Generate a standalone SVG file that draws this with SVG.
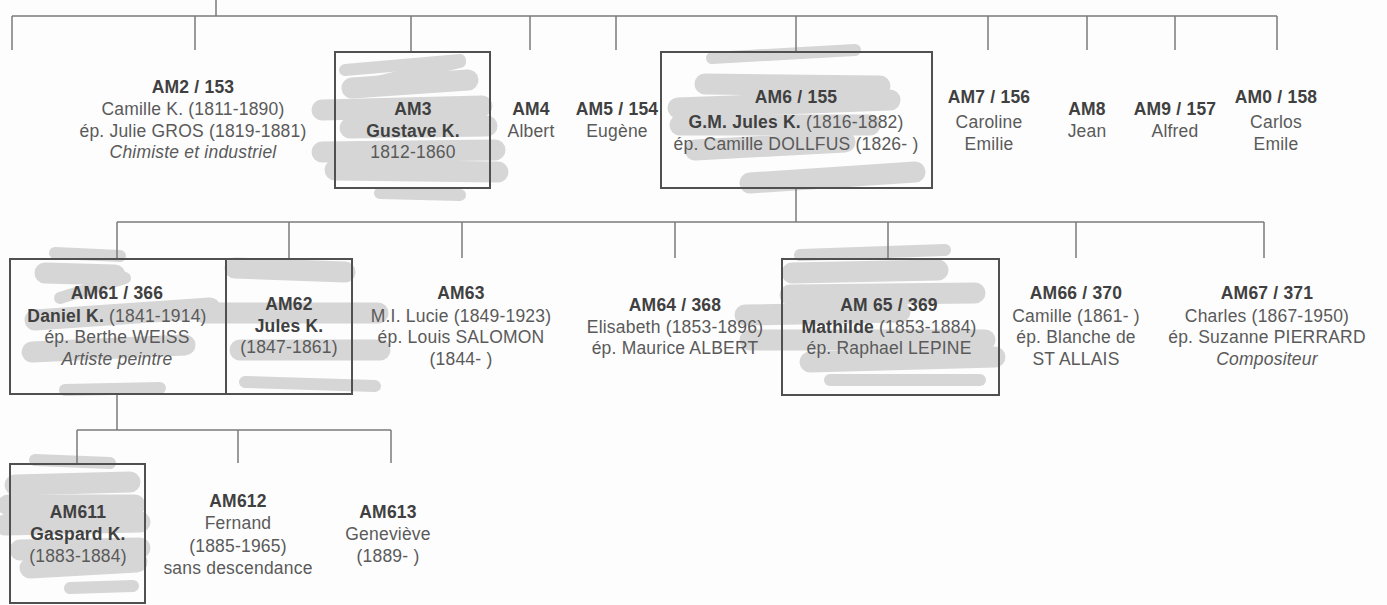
<svg xmlns="http://www.w3.org/2000/svg" width="1387" height="605" viewBox="0 0 1387 605">
<style>
text{font-family:"Liberation Sans",Arial,sans-serif;font-size:17.5px;fill:#5a5a5a;text-anchor:middle;letter-spacing:0.2px}
.b{font-weight:bold;fill:#404040}
.i{font-style:italic}
.c line{stroke:#7a7a7a;stroke-width:1.5}
.box{fill:none;stroke:#505050;stroke-width:2}
.s{fill:none;stroke:#d6d6d6;stroke-width:21;stroke-linecap:round;stroke-linejoin:round}
.t{fill:none;stroke:#d6d6d6;stroke-width:12;stroke-linecap:round}
</style>
<rect width="1387" height="605" fill="#fdfdfd"/>
<g id="scribbles">
<line class="t" x1="345" y1="70" x2="460" y2="60"/>
<line class="t" x1="460" y1="62" x2="352" y2="88"/>
<line class="s" x1="352" y1="88" x2="468" y2="80"/>
<line class="s" x1="322" y1="110" x2="482" y2="106"/>
<line class="s" x1="350" y1="128" x2="487" y2="126"/>
<line class="s" x1="322" y1="152" x2="495" y2="150"/>
<line class="s" x1="335" y1="170" x2="498" y2="172"/>
<line class="t" x1="380" y1="193" x2="460" y2="195"/>

<line class="t" x1="712" y1="58" x2="855" y2="50"/>
<line class="s" x1="705" y1="84" x2="880" y2="86"/>
<line class="s" x1="678" y1="108" x2="890" y2="100"/>
<line class="s" x1="680" y1="125" x2="870" y2="125"/>
<line class="s" x1="695" y1="150" x2="845" y2="142"/>
<line class="s" x1="750" y1="183" x2="915" y2="172"/>

<line class="t" x1="55" y1="253" x2="120" y2="256"/>
<line class="s" x1="45" y1="273" x2="115" y2="275"/>
<line class="t" x1="125" y1="278" x2="60" y2="298"/>
<line class="s" x1="35" y1="320" x2="210" y2="308"/>
<line class="s" x1="32" y1="352" x2="185" y2="345"/>
<line class="t" x1="65" y1="390" x2="160" y2="388"/>
<line class="s" x1="235" y1="268" x2="345" y2="272"/>
<line class="s" x1="205" y1="313" x2="378" y2="313"/>
<line class="s" x1="240" y1="350" x2="380" y2="350"/>
<line class="t" x1="245" y1="382" x2="375" y2="386"/>

<line class="t" x1="800" y1="255" x2="945" y2="250"/>
<line class="s" x1="792" y1="273" x2="938" y2="270"/>
<line class="s" x1="790" y1="295" x2="975" y2="293"/>
<line class="s" x1="745" y1="315" x2="900" y2="312"/>
<line class="s" x1="750" y1="340" x2="985" y2="340"/>
<line class="s" x1="810" y1="362" x2="995" y2="357"/>
<line class="t" x1="830" y1="380" x2="980" y2="380"/>

<line class="t" x1="35" y1="460" x2="110" y2="463"/>
<line class="s" x1="15" y1="485" x2="130" y2="482"/>
<line class="s" x1="8" y1="505" x2="135" y2="505"/>
<line class="s" x1="5" y1="525" x2="140" y2="522"/>
<line class="s" x1="20" y1="550" x2="140" y2="548"/>
<line class="s" x1="30" y1="568" x2="137" y2="562"/>
<line class="t" x1="70" y1="588" x2="133" y2="586"/>
</g>
<g id="connectors" class="c">
<line x1="216" y1="0" x2="216" y2="16"/>
<line x1="12" y1="16" x2="1277" y2="16"/>
<line x1="12" y1="16" x2="12" y2="50"/>
<line x1="195" y1="16" x2="195" y2="50"/>
<line x1="411" y1="16" x2="411" y2="52"/>
<line x1="530" y1="16" x2="530" y2="50"/>
<line x1="616" y1="16" x2="616" y2="50"/>
<line x1="796" y1="16" x2="796" y2="52"/>
<line x1="988" y1="16" x2="988" y2="50"/>
<line x1="1087" y1="16" x2="1087" y2="50"/>
<line x1="1175" y1="16" x2="1175" y2="50"/>
<line x1="1277" y1="16" x2="1277" y2="50"/>
<line x1="796" y1="188" x2="796" y2="222"/>
<line x1="117" y1="222" x2="1264" y2="222"/>
<line x1="117" y1="222" x2="117" y2="259"/>
<line x1="289" y1="222" x2="289" y2="259"/>
<line x1="462" y1="222" x2="462" y2="258"/>
<line x1="675" y1="222" x2="675" y2="258"/>
<line x1="888" y1="222" x2="888" y2="259"/>
<line x1="1076" y1="222" x2="1076" y2="258"/>
<line x1="1264" y1="222" x2="1264" y2="258"/>
<line x1="117" y1="394" x2="117" y2="430"/>
<line x1="77" y1="430" x2="391" y2="430"/>
<line x1="77" y1="430" x2="77" y2="464"/>
<line x1="238" y1="430" x2="238" y2="463"/>
<line x1="391" y1="430" x2="391" y2="463"/>
</g>
<g id="AM2">
<text class="b" x="193" y="93">AM2 / 153</text>
<text x="193" y="115">Camille K. (1811-1890)</text>
<text x="193" y="137">ép. Julie GROS (1819-1881)</text>
<text class="i" x="193" y="158">Chimiste et industriel</text>
</g>
<g id="AM3">
<rect class="box" x="335" y="52" width="155" height="136"/>
<text class="b" x="413" y="115">AM3</text>
<text class="b" x="413" y="137">Gustave K.</text>
<text x="413" y="158">1812-1860</text>
</g>
<g id="AM4">
<text class="b" x="531" y="115">AM4</text>
<text x="531" y="137">Albert</text>
</g>
<g id="AM5">
<text class="b" x="617" y="115">AM5 / 154</text>
<text x="617" y="137">Eugène</text>
</g>
<g id="AM6">
<rect class="box" x="661" y="52" width="271" height="136"/>
<text class="b" x="796" y="103">AM6 / 155</text>
<text x="796" y="128"><tspan class="b">G.M. Jules K.</tspan> (1816-1882)</text>
<text x="796" y="150">ép. Camille DOLLFUS (1826- )</text>
</g>
<g id="AM7">
<text class="b" x="989" y="103">AM7 / 156</text>
<text x="989" y="128">Caroline</text>
<text x="989" y="150">Emilie</text>
</g>
<g id="AM8">
<text class="b" x="1087" y="115">AM8</text>
<text x="1087" y="137">Jean</text>
</g>
<g id="AM9">
<text class="b" x="1175" y="115">AM9 / 157</text>
<text x="1175" y="137">Alfred</text>
</g>
<g id="AM0">
<text class="b" x="1276" y="103">AM0 / 158</text>
<text x="1276" y="128">Carlos</text>
<text x="1276" y="150">Emile</text>
</g>
<g id="AM61">
<rect class="box" x="10" y="259" width="216" height="135"/>
<text class="b" x="117" y="299">AM61 / 366</text>
<text x="117" y="322"><tspan class="b">Daniel K.</tspan> (1841-1914)</text>
<text x="117" y="343">ép. Berthe WEISS</text>
<text class="i" x="117" y="365">Artiste peintre</text>
</g>
<g id="AM62">
<rect class="box" x="226" y="259" width="126" height="135"/>
<text class="b" x="289" y="310">AM62</text>
<text class="b" x="289" y="332">Jules K.</text>
<text x="289" y="353">(1847-1861)</text>
</g>
<g id="AM63">
<text class="b" x="461" y="299">AM63</text>
<text x="461" y="322">M.I. Lucie (1849-1923)</text>
<text x="461" y="343">ép. Louis SALOMON</text>
<text x="461" y="365">(1844- )</text>
</g>
<g id="AM64">
<text class="b" x="675" y="311">AM64 / 368</text>
<text x="675" y="333">Elisabeth (1853-1896)</text>
<text x="675" y="354">ép. Maurice ALBERT</text>
</g>
<g id="AM65">
<rect class="box" x="782" y="259" width="217" height="136"/>
<text class="b" x="889" y="311">AM 65 / 369</text>
<text x="889" y="333"><tspan class="b">Mathilde</tspan> (1853-1884)</text>
<text x="889" y="354">ép. Raphael LEPINE</text>
</g>
<g id="AM66">
<text class="b" x="1076" y="299">AM66 / 370</text>
<text x="1076" y="322">Camille (1861- )</text>
<text x="1076" y="343">ép. Blanche de</text>
<text x="1076" y="365">ST ALLAIS</text>
</g>
<g id="AM67">
<text class="b" x="1267" y="299">AM67 / 371</text>
<text x="1267" y="322">Charles (1867-1950)</text>
<text x="1267" y="343">ép. Suzanne PIERRARD</text>
<text class="i" x="1267" y="365">Compositeur</text>
</g>
<g id="AM611">
<rect class="box" x="10" y="464" width="135" height="139"/>
<text class="b" x="78" y="518">AM611</text>
<text class="b" x="78" y="540">Gaspard K.</text>
<text x="78" y="562">(1883-1884)</text>
</g>
<g id="AM612">
<text class="b" x="238" y="507">AM612</text>
<text x="238" y="529">Fernand</text>
<text x="238" y="552">(1885-1965)</text>
<text x="238" y="574">sans descendance</text>
</g>
<g id="AM613">
<text class="b" x="388" y="518">AM613</text>
<text x="388" y="540">Geneviève</text>
<text x="388" y="562">(1889- )</text>
</g>
</svg>
